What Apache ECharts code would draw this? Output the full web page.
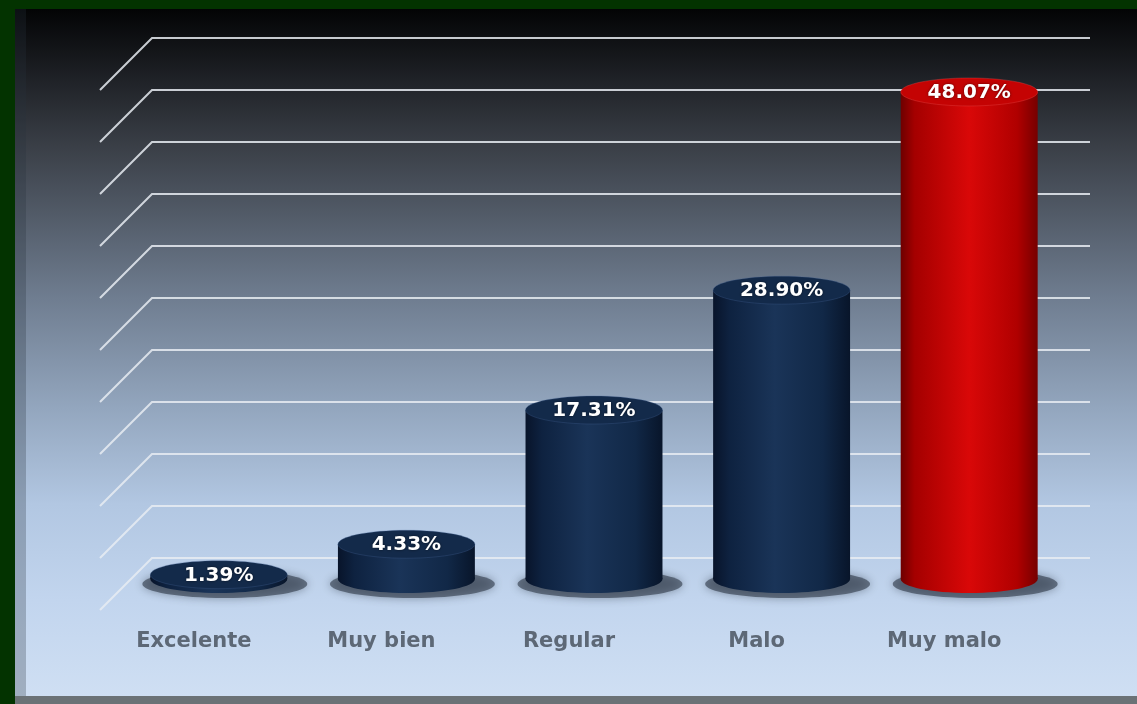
<!DOCTYPE html>
<html>
<head>
<meta charset="utf-8">
<script src="https://cdn.jsdelivr.net/npm/echarts@6/dist/echarts.min.js"></script>
<style>
  html, body { margin: 0; padding: 0; background: #033300; }
  #chart { width: 1137px; height: 704px; }
</style>
</head>
<body>
<div id="chart"></div>
<script>
// Survey answers and their shares (%)
const categories = ['Excelente', 'Muy bien', 'Regular', 'Malo', 'Muy malo'];
const values = [1.39, 4.33, 17.31, 28.90, 48.07];
// Value-axis ticks used for the wall gridlines
const gridTicks = [0, 5, 10, 15, 20, 25, 30, 35, 40, 45, 50];
const axisMin = 0;
const axisMax = 50;
const axisInterval = 5;
// Which category is emphasised in red
const highlightIndex = 4;

const FONT = '"DejaVu Sans", sans-serif';
const DEPTH = 52;          // perspective depth of the side wall / floor
const BASE_LIFT = 10;      // cylinder base sits a little above the floor line

const navy = {
  body: new echarts.graphic.LinearGradient(0, 0, 1, 0, [
    { offset: 0, color: '#08142a' },
    { offset: 0.12, color: '#0e2240' },
    { offset: 0.45, color: '#1a3458' },
    { offset: 0.8, color: '#112847' },
    { offset: 1, color: '#08152a' }
  ]),
  top: '#132a4a',
  topEdge: 'rgba(70,100,150,0.3)'
};
const red = {
  body: new echarts.graphic.LinearGradient(0, 0, 1, 0, [
    { offset: 0, color: '#6e0000' },
    { offset: 0.1, color: '#a40000' },
    { offset: 0.5, color: '#d90808' },
    { offset: 0.85, color: '#b00000' },
    { offset: 1, color: '#760000' }
  ]),
  top: '#c40303',
  topEdge: 'rgba(240,90,90,0.3)'
};

function renderWallLine(params, api) {
  const cs = params.coordSys;
  const y = api.coord([0, api.value(1)])[1];
  return {
    type: 'polyline',
    shape: { points: [[cs.x - DEPTH, y + DEPTH], [cs.x, y], [cs.x + cs.width, y]] },
    style: { stroke: 'rgba(232,236,242,0.85)', lineWidth: 2, fill: null },
    silent: true
  };
}

function renderCylinder(params, api) {
  const idx = api.value(0);
  const val = api.value(1);
  const top = api.coord([idx, val]);
  const zero = api.coord([idx, 0]);
  const cx = top[0];
  const rx = api.size([1, 0])[0] * 0.365;
  const ry = 14;
  const topY = top[1];
  const baseY = zero[1] - BASE_LIFT;
  const pal = idx === highlightIndex ? red : navy;
  return {
    type: 'group',
    children: [
      {
        type: 'ellipse',
        shape: { cx: cx + 6, cy: baseY + 5, rx: rx + 14, ry: ry },
        style: { fill: 'rgba(45,55,70,0.6)', shadowBlur: 10, shadowColor: 'rgba(45,55,70,0.75)' }
      },
      {
        type: 'ellipse',
        shape: { cx: cx, cy: baseY, rx: rx, ry: ry },
        style: { fill: pal.body }
      },
      {
        type: 'rect',
        shape: { x: cx - rx, y: topY, width: rx * 2, height: Math.max(0, baseY - topY) },
        style: { fill: pal.body }
      },
      {
        type: 'ellipse',
        shape: { cx: cx, cy: topY, rx: rx, ry: ry },
        style: { fill: pal.top, stroke: pal.topEdge, lineWidth: 1 }
      },
      {
        type: 'text',
        style: {
          x: cx, y: topY + 1,
          text: val.toFixed(2) + '%',
          align: 'center', verticalAlign: 'middle',
          fill: '#ffffff',
          font: 'bold 20px ' + FONT,
          textShadowColor: 'rgba(0,0,0,0.55)', textShadowBlur: 3
        }
      }
    ]
  };
}

const chart = echarts.init(document.getElementById('chart'), null, { renderer: 'canvas' });

const hiddenValueAxis = (gi) => ({
  type: 'value', gridIndex: gi, min: axisMin, max: axisMax, interval: axisInterval,
  show: false, splitLine: { show: false }
});

chart.setOption({
  animation: false,
  backgroundColor: 'transparent',
  graphic: [
    {
      type: 'rect', z: -10, silent: true,
      shape: { x: 15, y: 9, width: 1122, height: 688 },
      style: {
        fill: new echarts.graphic.LinearGradient(0, 0, 0, 1, [
          { offset: 0, color: '#030405' },
          { offset: 0.07, color: '#16181c' },
          { offset: 0.2, color: '#3a3f47' },
          { offset: 0.42, color: '#6f7d90' },
          { offset: 0.58, color: '#93a6be' },
          { offset: 0.72, color: '#b2c7e2' },
          { offset: 0.86, color: '#c2d5ee' },
          { offset: 1, color: '#cfdff3' }
        ])
      }
    },
    {
      type: 'rect', z: -9, silent: true,
      shape: { x: 15, y: 9, width: 11, height: 688 },
      style: { fill: 'rgba(40,50,62,0.28)' }
    },
    {
      type: 'rect', z: -9, silent: true,
      shape: { x: 15, y: 696, width: 1122, height: 8 },
      style: { fill: '#6b7276' }
    }
  ],
  grid: [
    { left: 152, right: 47, top: 38, bottom: 146 },
    { left: 125, right: 74, top: 72, bottom: 115 },
    { left: 100, right: 99, top: 90, bottom: 94 }
  ],
  xAxis: [
    { type: 'category', gridIndex: 0, data: categories, show: false },
    { type: 'category', gridIndex: 1, data: categories, show: false },
    {
      type: 'category', gridIndex: 2, data: categories,
      axisLine: { show: false }, axisTick: { show: false },
      axisLabel: { margin: 21, color: '#5d6876', fontSize: 21, fontWeight: 'bold', fontFamily: FONT }
    }
  ],
  yAxis: [hiddenValueAxis(0), hiddenValueAxis(1), hiddenValueAxis(2)],
  series: [
    {
      type: 'custom', xAxisIndex: 0, yAxisIndex: 0, silent: true,
      renderItem: renderWallLine,
      data: gridTicks.map(t => [0, t])
    },
    {
      type: 'custom', xAxisIndex: 1, yAxisIndex: 1, silent: true,
      renderItem: renderCylinder,
      data: values.map((v, i) => [i, v])
    }
  ]
});
</script>
</body>
</html>
